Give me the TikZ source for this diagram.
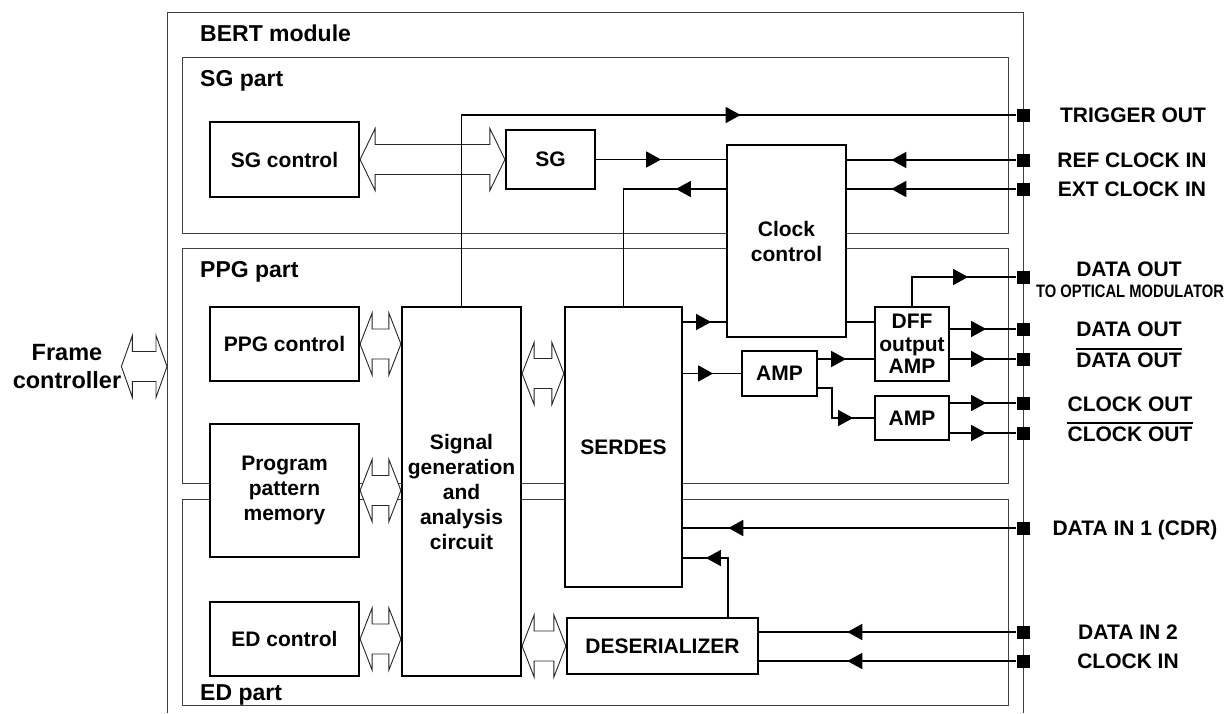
\documentclass[tikz,border=0pt]{standalone}
\usepackage{fontspec}
\usepackage{graphicx}
\setmainfont{Liberation Sans}
\usetikzlibrary{arrows.meta,decorations.markings,calc}
\newcommand\hollowarr[3][12]{%
  \draw[hollow] let \p1=#2, \p2=#3 in
   (\x1,\y1) -- (\x1+#1pt,\y1+31pt) -- (\x1+#1pt,\y1+15pt) -- (\x2-#1pt,\y1+15pt)
   -- (\x2-#1pt,\y1+31pt) -- (\x2,\y1) -- (\x2-#1pt,\y1-31pt) -- (\x2-#1pt,\y1-15pt)
   -- (\x1+#1pt,\y1-15pt) -- (\x1+#1pt,\y1-31pt) -- cycle;}
\begin{document}
\begin{tikzpicture}[x=1pt,y=-1pt,
  every node/.style={font=\bfseries\fontsize{21}{25}\selectfont, inner sep=0pt, text=black},
  title/.style={anchor=base west, font=\bfseries\fontsize{23}{25}\selectfont},
  blk/.style={draw, line width=2.2pt, fill=white, align=center},
  part/.style={draw=black!75, line width=1pt},
  conn/.style={line width=1.6pt},
  port/.style={fill=black, minimum size=13pt, inner sep=0pt},
  hollow/.style={draw=black!85, line width=0.9pt, fill=white, line join=miter},
  arrowat/.style={postaction={decorate}, decoration={markings,
     mark=at position #1 with {\arrow{Triangle[length=15pt,width=16pt]}}}},
]
\useasboundingbox (0,0) rectangle (1227,713);

% outer module and parts
\coordinate (bertNW) at (167,12);
\coordinate (bertNE) at (1023,12);
\draw[part] (bertNW |- 0,713) -- (bertNW) -- (bertNE) -- (bertNE |- 0,713);
\draw[part] (182,57) rectangle (1008,233);
\draw[part] (182,248) rectangle (1008,483);
\draw[part] (182,499) rectangle (1008,705);

\node[title] (tBert) at (200,41.5) {BERT module};
\node[title] (tSG) at (200,86) {SG part};
\node[title] (tPPG) at (200,277) {PPG part};
\node[title] (tED) at (200,700) {ED part};

% blocks
\node[blk, minimum width=149pt, minimum height=75pt] (sgc) at (284.5,159.5) {SG control};
\node[blk, minimum width=89pt, minimum height=59pt] (sg) at (550.5,159.5) {SG};
\node[blk, minimum width=119pt, minimum height=192pt] (clk) at (786.5,241) {Clock\\control};
\node[blk, minimum width=149pt, minimum height=74pt] (ppgc) at (284.5,344) {PPG control};
\node[blk, minimum width=149pt, minimum height=133pt] (pmem) at (284.5,490.5) {Program\\pattern\\memory};
\node[blk, minimum width=149pt, minimum height=74pt] (edc) at (284.5,639) {ED control};
\node[blk, minimum width=119pt, minimum height=369pt] (sga) at (461.5,491.5) {Signal\\generation\\and\\analysis\\circuit};
\node[blk, minimum width=117pt, minimum height=280pt] (serdes) at (623.5,447) {SERDES};
\node[blk, minimum width=74pt, minimum height=74pt, font=\bfseries\fontsize{21}{22.5}\selectfont] (dff) at (912,344) {DFF\\output\\AMP};
\node[blk, minimum width=75pt, minimum height=45pt] (amp1) at (779.5,373.5) {AMP};
\node[blk, minimum width=74pt, minimum height=44pt] (amp2) at (912,418) {AMP};
\node[blk, minimum width=191pt, minimum height=56pt] (deser) at (662.5,646) {DESERIALIZER};

% frame controller
\node[align=center, font=\bfseries\fontsize{23.5}{28}\selectfont] (fc) at (67,366.5) {Frame\\controller};

% hollow double arrows
\hollowarr[11]{(fc.east)}{(fc.east -| bertNW)}
\hollowarr[15]{(sgc.east)}{(sg.west)}
\hollowarr{(ppgc.east)}{(sga.west |- ppgc.east)}
\hollowarr{(pmem.east)}{(sga.west |- pmem.east)}
\hollowarr{(edc.east)}{(sga.west |- edc.east)}
\hollowarr{(sga.east |- amp1.west)}{(serdes.west |- amp1.west)}
\hollowarr{(sga.east |- deser.west)}{(deser.west)}

% ports
\node[port] (p1) at (1023,115) {};
\node[port] (p2) at (1023,160) {};
\node[port] (p3) at (1023,189) {};
\node[port] (p4) at (1023,277) {};
\node[port] (p5) at (1023,329) {};
\node[port] (p6) at (1023,359) {};
\node[port] (p7) at (1023,403) {};
\node[port] (p8) at (1023,433) {};
\node[port] (p9) at (1023,528) {};
\node[port] (p10) at (1023,632) {};
\node[port] (p11) at (1023,661) {};

% connectors
\coordinate (r322) at (0,322);
\coordinate (r388) at (0,388);
\coordinate (r558) at (728,558);
\draw[conn, arrowat=470pt] (sga.north) |- (p1);
\draw[conn, arrowat=65pt] (sg.east) -- (clk.west |- sg.east);
\draw[conn, arrowat=50pt] (clk.west |- p3) -| (serdes.north);
\draw[conn, arrowat=125pt] (p2) -- (clk.east |- p2);
\draw[conn, arrowat=125pt] (p3) -- (clk.east |- p3);
\draw[conn, arrowat=28pt] (serdes.east |- r322) -- (clk.west |- r322);
\draw[conn, arrowat=27pt] (clk.east |- r322) -- (dff.west |- r322);
\draw[conn, arrowat=30pt] (serdes.east |- amp1.west) -- (amp1.west);
\draw[conn, arrowat=28pt] (amp1.east |- p6) -- (dff.west |- p6);
\draw[conn, arrowat=65pt] (amp1.east |- r388) -- ++(14,0) |- (amp2.west);
\draw[conn, arrowat=85pt] (dff.north) |- (p4);
\foreach \p in {p5,p6} \draw[conn, arrowat=36pt] (dff.east |- \p) -- (\p);
\foreach \p in {p7,p8} \draw[conn, arrowat=36pt] (amp2.east |- \p) -- (\p);
\draw[conn, arrowat=288pt] (p9) -- (serdes.east |- p9);
\draw[conn, arrowat=81pt] (deser.north -| r558) |- (serdes.east |- r558);
\foreach \p in {p10,p11} \draw[conn, arrowat=169pt] (\p) -- (deser.east |- \p);

% port labels
\node (lTrig) at (1133,115) {TRIGGER OUT};
\node (lRef) at (1132,160) {REF CLOCK IN};
\node (lExt) at (1132,189) {EXT CLOCK IN};
\node (lOpt) at (1129,269.5) {DATA OUT};
\node[font=\bfseries\fontsize{18}{18}\selectfont] (lOpt2) at (1130,291.5) {\scalebox{0.82}[1]{TO OPTICAL MODULATOR}};
\node (lDo) at (1129,329) {DATA OUT};
\node (lDob) at (1129,360) {DATA OUT};
\draw[line width=1.3pt] ([yshift=3.5pt]lDob.north west) -- ([yshift=3.5pt]lDob.north east);
\node (lCo) at (1130,404) {CLOCK OUT};
\node (lCob) at (1130,434) {CLOCK OUT};
\draw[line width=1.3pt] ([yshift=3.5pt]lCob.north west) -- ([yshift=3.5pt]lCob.north east);
\node[anchor=base] (lIn1) at (1135,535.5) {DATA IN 1 (CDR)};
\node (lIn2) at (1128,632) {DATA IN 2};
\node (lClkIn) at (1128,661) {CLOCK IN};
\end{tikzpicture}
\end{document}
